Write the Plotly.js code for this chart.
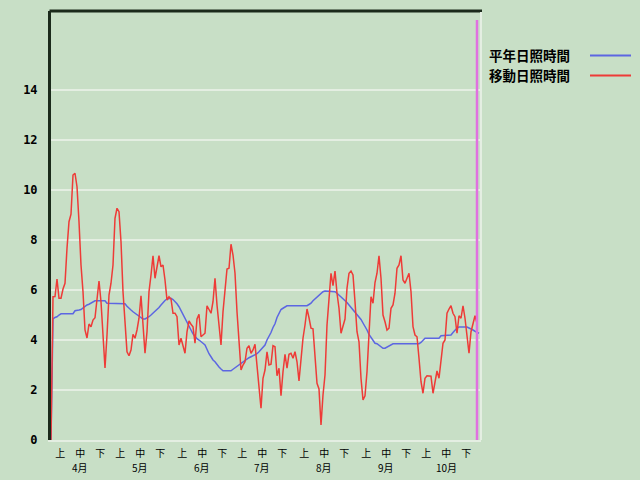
<!DOCTYPE html>
<html>
<head>
<meta charset="utf-8">
<script src="https://cdn.plot.ly/plotly-3.0.1.min.js"></script>
<style>html,body{margin:0;padding:0;background:#c8dfc6;}#chart{width:640px;height:480px;}</style>
</head>
<body>
<div id="chart"></div>
<script>
// ---- data ----
const months = ['4月', '5月', '6月', '7月', '8月', '9月', '10月'];
const monthDays = [30, 31, 30, 31, 31, 30, 31];
const dekads = ['上', '中', '下'];
const seriesNames = ['平年日照時間', '移動日照時間'];
const yTickValues = [0, 2, 4, 6, 8, 10, 12, 14];

// 平年日照時間 (normal sunshine hours, daily)
const normalSunshine = [
  0, 4.84, 4.9, 4.93, 5.0, 5.05, 5.05, 5.05, 5.05, 5.05,
  5.05, 5.05, 5.17, 5.17, 5.2, 5.22, 5.29, 5.35, 5.4, 5.43,
  5.47, 5.5, 5.57, 5.57, 5.57, 5.57, 5.57, 5.57, 5.47, 5.47,
  5.47, 5.47, 5.47, 5.47, 5.47, 5.47, 5.47, 5.45, 5.35, 5.29,
  5.2, 5.13, 5.07, 5.0, 4.96, 4.9, 4.84, 4.84, 4.87, 4.93,
  5.0, 5.07, 5.13, 5.2, 5.3, 5.4, 5.5, 5.58, 5.64, 5.67,
  5.67, 5.62, 5.55, 5.45, 5.33, 5.17, 5.0, 4.87, 4.7, 4.5,
  4.4, 4.25, 4.13, 4.05, 4.0, 3.95, 3.87, 3.8, 3.6, 3.45,
  3.33, 3.2, 3.13, 3.0, 2.92, 2.84, 2.77, 2.77, 2.77, 2.77,
  2.77, 2.83, 2.89, 2.95, 3.0, 3.07, 3.11, 3.17, 3.23, 3.29,
  3.33, 3.37, 3.4, 3.45, 3.53, 3.63, 3.73, 3.8, 4.0, 4.13,
  4.3, 4.5, 4.65, 4.9, 5.1, 5.22, 5.27, 5.33, 5.37, 5.37,
  5.37, 5.37, 5.37, 5.37, 5.37, 5.37, 5.37, 5.37, 5.37, 5.42,
  5.47, 5.57, 5.64, 5.72, 5.8, 5.85, 5.93, 5.96, 5.96, 5.96,
  5.96, 5.96, 5.93, 5.87, 5.8, 5.74, 5.67, 5.6, 5.5, 5.4,
  5.3, 5.2, 5.1, 5.0, 4.93, 4.82, 4.68, 4.55, 4.4, 4.22,
  4.1, 3.98, 3.87, 3.85, 3.8, 3.72, 3.67, 3.67, 3.72, 3.77,
  3.8, 3.85, 3.85, 3.85, 3.85, 3.85, 3.85, 3.85, 3.85, 3.85,
  3.85, 3.85, 3.85, 3.85, 3.85, 3.9, 4.0, 4.07, 4.07, 4.07,
  4.07, 4.07, 4.07, 4.07, 4.07, 4.17, 4.17, 4.17, 4.17, 4.17,
  4.2, 4.3, 4.4, 4.48, 4.52, 4.52, 4.52, 4.52, 4.52, 4.48,
  4.45, 4.4, 4.35, 4.3, 4.27
];

// 移動日照時間 (moving sunshine hours, daily)
const movingSunshine = [
  0, 5.73, 5.74, 6.44, 5.67, 5.67, 6.04, 6.27, 7.67, 8.73,
  9.03, 10.6, 10.67, 10.13, 8.73, 7.0, 5.93, 4.4, 4.08, 4.64,
  4.53, 4.8, 4.89, 5.53, 6.36, 5.53, 3.93, 2.88, 4.2, 5.8,
  6.27, 7.0, 8.87, 9.27, 9.13, 7.93, 5.93, 4.73, 3.53, 3.37,
  3.6, 4.23, 4.07, 4.4, 4.87, 5.77, 4.6, 3.47, 4.33, 5.93,
  6.6, 7.37, 6.47, 6.87, 7.37, 6.93, 7.0, 6.4, 5.6, 5.73,
  5.64, 5.07, 5.07, 4.93, 3.8, 4.07, 3.73, 3.47, 4.33, 4.76,
  4.63, 4.53, 3.87, 4.84, 5.03, 4.13, 4.2, 4.27, 5.37, 5.2,
  5.07, 5.53, 6.47, 5.4, 4.47, 3.8, 5.13, 6.0, 6.84, 6.87,
  7.83, 7.4, 6.67, 5.13, 3.93, 2.8, 3.0, 3.13, 3.67, 3.77,
  3.47, 3.6, 3.83, 3.0, 1.93, 1.27, 2.47, 2.8, 3.53, 3.0,
  3.03, 3.77, 3.73, 2.57, 2.87, 1.77, 2.73, 3.43, 2.87, 3.43,
  3.47, 3.27, 3.53, 3.13, 2.36, 3.27, 4.07, 4.6, 5.24, 4.89,
  4.47, 4.45, 3.27, 2.27, 2.04, 0.6, 1.8, 2.6, 4.6, 5.8,
  6.67, 6.17, 6.76, 5.87, 5.27, 4.27, 4.6, 4.84, 6.07, 6.67,
  6.76, 6.6, 5.53, 4.33, 3.93, 2.47, 1.6, 1.77, 2.73, 4.2,
  5.73, 5.47, 6.3, 6.67, 7.37, 6.47, 5.0, 4.73, 4.4, 4.47,
  5.27, 5.4, 5.87, 6.87, 7.0, 7.37, 6.4, 6.27, 6.47, 6.67,
  5.93, 4.53, 4.2, 4.13, 3.27, 2.33, 1.87, 2.47, 2.57, 2.57,
  2.55, 1.87, 2.33, 2.76, 2.47, 3.27, 3.87, 4.0, 5.07, 5.24,
  5.37, 5.07, 4.93, 4.27, 4.97, 4.87, 5.37, 4.87, 4.27, 3.47,
  4.33, 4.6, 4.97, 4.67
];

// latest-day marker line (top value)
const markerTop = 16.8;

// ---- build ----
const idxN = normalSunshine.map((_, i) => i);
const idxM = movingSunshine.map((_, i) => i);
const lastDay = movingSunshine.length - 1;

const tickVals = [];
const tickText = [];
const monthMid = [];
let start = 0;
months.forEach((m, mi) => {
  dekads.forEach((d, di) => {
    tickVals.push(start + 4.6 + 10 * di);
    tickText.push(d);
  });
  monthMid.push(start + 14.6);
  start += monthDays[mi];
});

const bg = '#c8dfc6';
const grid = '#e4eee2';
const blue = '#5c66e2';
const red = '#ee3b37';
const magenta = '#e070e0';
const jp = '"Noto Sans CJK JP", "Noto Sans", sans-serif';

const traces = [
  { x: idxN, y: normalSunshine, type: 'scatter', mode: 'lines', name: seriesNames[0],
    line: { color: blue, width: 1.5 }, hoverinfo: 'skip' },
  { x: idxM, y: movingSunshine, type: 'scatter', mode: 'lines', name: seriesNames[1],
    line: { color: red, width: 1.5 }, hoverinfo: 'skip' },
  { x: [lastDay, lastDay], y: [0, markerTop], type: 'scatter', mode: 'lines',
    line: { color: magenta, width: 2.5 }, showlegend: false, hoverinfo: 'skip' }
];

// plot area in px: x 51..481, y 11..440
const px = v => (v - 51) / 430;
const py = v => (440 - v) / 429;

const annotations = [
  { xref: 'paper', yref: 'paper', x: px(487), y: py(55), xanchor: 'left', yanchor: 'middle',
    text: seriesNames[0], showarrow: false,
    font: { family: jp, size: 13.5, color: '#000', weight: 'bold' } },
  { xref: 'paper', yref: 'paper', x: px(487), y: py(75.5), xanchor: 'left', yanchor: 'middle',
    text: seriesNames[1], showarrow: false,
    font: { family: jp, size: 13.5, color: '#000', weight: 'bold' } }
];
months.forEach((m, mi) => {
  annotations.push({ xref: 'x', yref: 'paper', x: monthMid[mi], y: py(467), xanchor: 'center',
    yanchor: 'middle', text: m, showarrow: false,
    font: { family: jp, size: 10, color: '#000' } });
});

const layout = {
  width: 640, height: 480,
  margin: { l: 51, r: 159, t: 11, b: 40, pad: 0 },
  paper_bgcolor: bg, plot_bgcolor: bg,
  showlegend: false,
  xaxis: {
    range: [0, 215], tickmode: 'array', tickvals: tickVals, ticktext: tickText,
    showgrid: false, zeroline: false, showline: true, linecolor: grid, linewidth: 2,
    ticks: '', ticklabelstandoff: 3,
    tickfont: { family: jp, size: 10, color: '#000' }, fixedrange: true
  },
  yaxis: {
    range: [0, 17.16], tickmode: 'array', tickvals: yTickValues,
    showgrid: true, gridcolor: grid, gridwidth: 2, zeroline: false,
    showline: true, linecolor: '#1b2a1b', linewidth: 3, layer: 'below traces',
    ticks: '', ticklabelstandoff: 8,
    tickfont: { family: '"DejaVu Sans Mono", monospace', size: 12, color: '#000', weight: 'bold' },
    fixedrange: true
  },
  shapes: [
    { type: 'line', xref: 'paper', yref: 'paper', x0: px(49.5), x1: px(482), y0: py(11), y1: py(11),
      line: { color: '#1b2a1b', width: 3 } },
    { type: 'line', xref: 'paper', yref: 'paper', x0: 1, x1: 1, y0: 0, y1: py(12),
      line: { color: grid, width: 2 } },
    { type: 'line', xref: 'paper', yref: 'paper', x0: px(590), x1: px(631), y0: py(55.5), y1: py(55.5),
      line: { color: blue, width: 2 } },
    { type: 'line', xref: 'paper', yref: 'paper', x0: px(590), x1: px(631), y0: py(75.5), y1: py(75.5),
      line: { color: red, width: 2 } }
  ],
  annotations: annotations
};

Plotly.newPlot('chart', traces, layout, { displayModeBar: false, staticPlot: true });
</script>
</body>
</html>
